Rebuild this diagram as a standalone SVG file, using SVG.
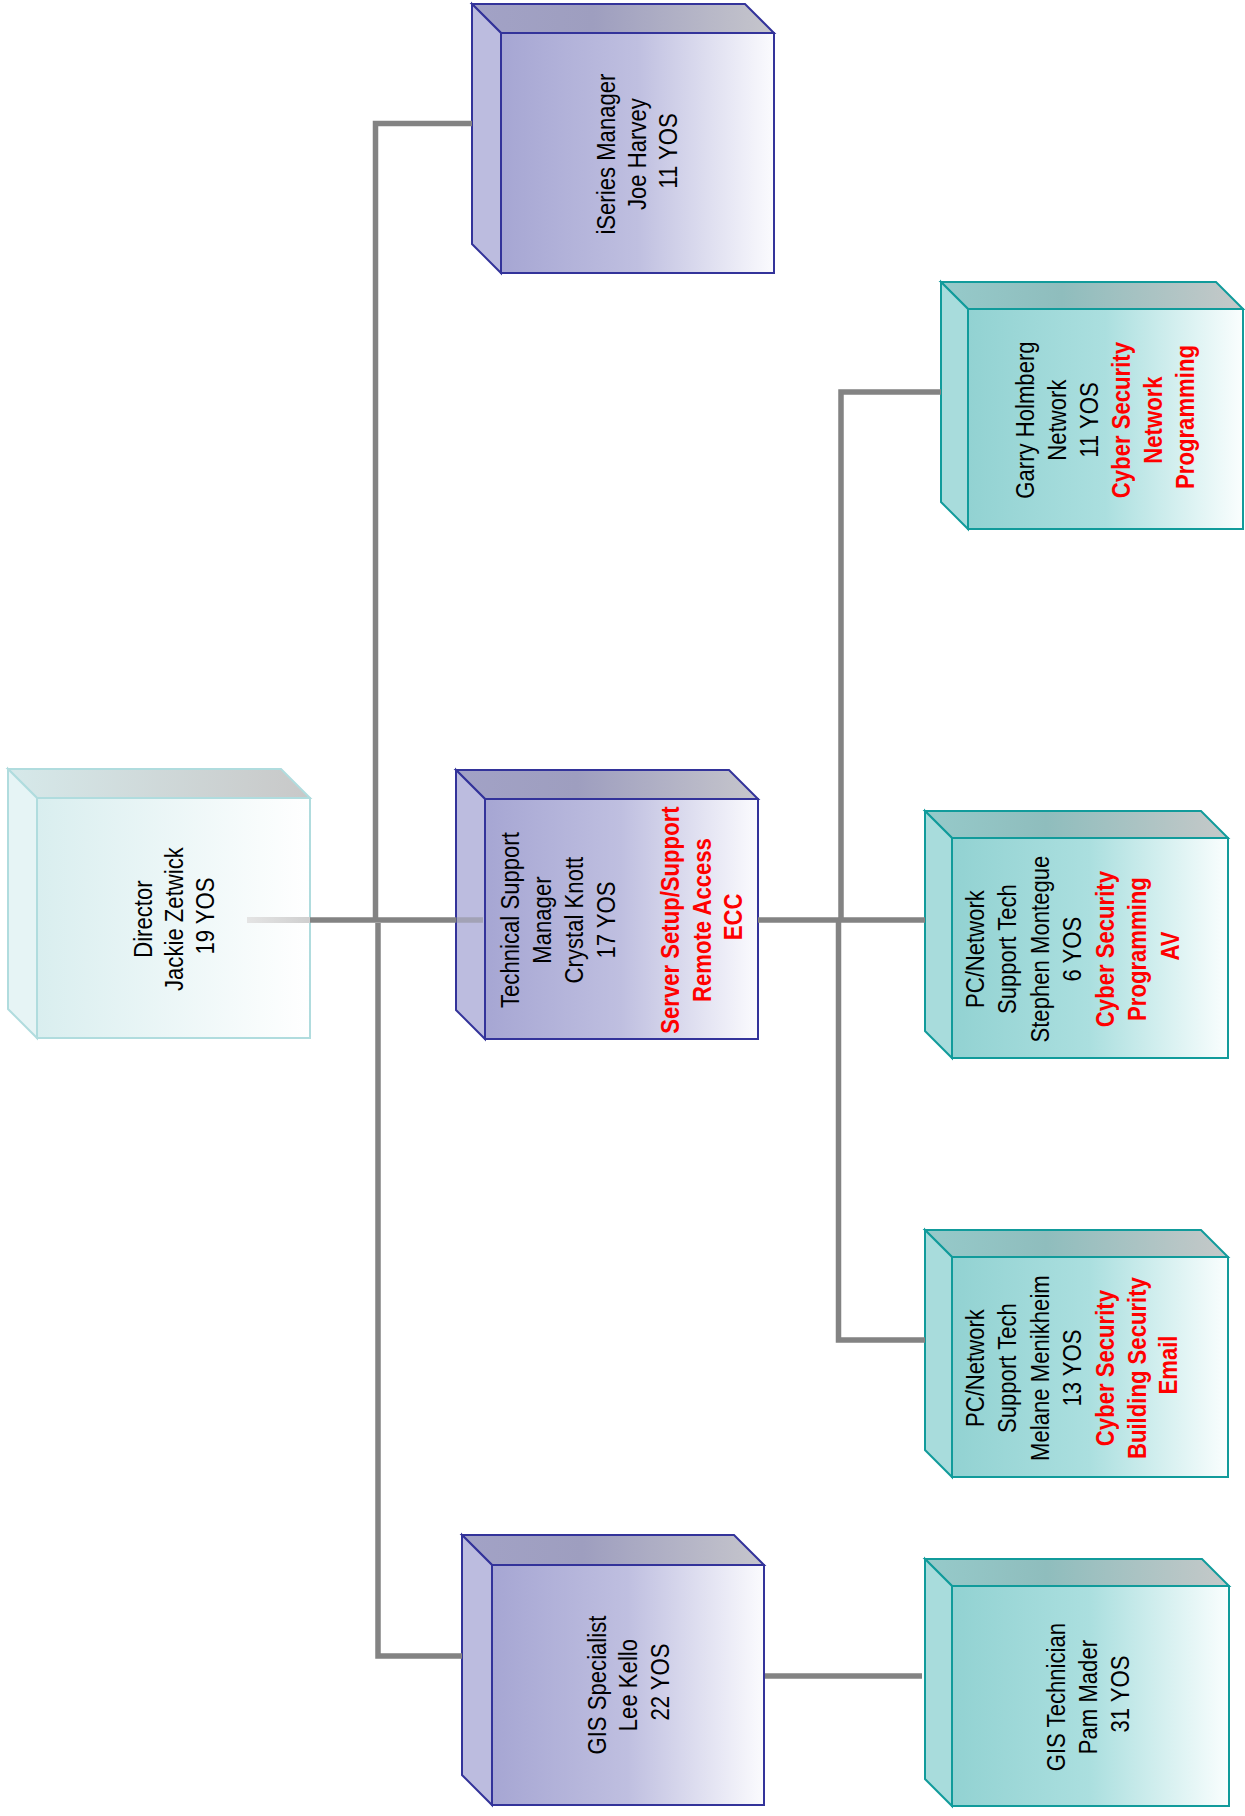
<svg xmlns="http://www.w3.org/2000/svg" width="1245" height="1816" viewBox="0 0 1245 1816">
  <style>
    .lbl { font-family: "Liberation Sans", Arial, sans-serif; font-size: 26.5px; fill: #000000; text-anchor: middle; }
    .duty { fill: #ff0000; font-weight: bold; }
    .edge { fill: none; stroke: #838383; stroke-width: 5.5; stroke-linejoin: miter; stroke-linecap: butt; }
    .purple .front { fill: url(#pFront); }
    .purple .top { fill: url(#pTop); }
    .purple .side { fill: #bcbcdf; }
    .purple path { stroke: #33339a; stroke-width: 2; stroke-linejoin: miter; }
    .teal .front { fill: url(#tFront); }
    .teal .top { fill: url(#tTop); }
    .teal .side { fill: #a8dcdc; }
    .teal path { stroke: #119b9b; stroke-width: 2; stroke-linejoin: miter; }
    .pale .front { fill: url(#dFront); }
    .pale .top { fill: url(#dTop); }
    .pale .side { fill: #e6f4f5; }
    .pale path { stroke: #b0dcde; stroke-width: 2; stroke-linejoin: miter; }
  </style>
  <defs>
    <linearGradient id="pFront" x1="0" y1="0" x2="1" y2="0">
      <stop offset="0" stop-color="#a6a6d3"/>
      <stop offset="0.5" stop-color="#bfbfe0"/>
      <stop offset="1" stop-color="#fbfbfe"/>
    </linearGradient>
    <linearGradient id="pTop" x1="0" y1="0" x2="1" y2="0">
      <stop offset="0" stop-color="#a2a2c6"/>
      <stop offset="0.4" stop-color="#9e9ebf"/>
      <stop offset="1" stop-color="#c6c6cc"/>
    </linearGradient>
    <linearGradient id="tFront" x1="0" y1="0" x2="1" y2="0">
      <stop offset="0" stop-color="#92d2d2"/>
      <stop offset="0.5" stop-color="#abdfdf"/>
      <stop offset="1" stop-color="#fafefe"/>
    </linearGradient>
    <linearGradient id="tTop" x1="0" y1="0" x2="1" y2="0">
      <stop offset="0" stop-color="#96caca"/>
      <stop offset="0.4" stop-color="#8fbdbd"/>
      <stop offset="1" stop-color="#c6c9c9"/>
    </linearGradient>
    <linearGradient id="dFront" x1="0" y1="0" x2="1" y2="0">
      <stop offset="0" stop-color="#d9eeef"/>
      <stop offset="1" stop-color="#ffffff"/>
    </linearGradient>
    <linearGradient id="dTop" x1="0" y1="0" x2="1" y2="0">
      <stop offset="0" stop-color="#d6e9ea"/>
      <stop offset="1" stop-color="#c8c8c8"/>
    </linearGradient>
    <linearGradient id="fadeIn" x1="0" y1="0" x2="1" y2="0">
      <stop offset="0" stop-color="#e4e4e4"/>
      <stop offset="1" stop-color="#cfcfcf"/>
    </linearGradient>
  </defs>

  <!-- Director -->
  <g id="director" class="pale">
    <path class="top" d="M8,769 H281 L310,798 H37 Z"/>
    <path class="side" d="M8,769 L37,798 V1038 L8,1009 Z"/>
    <path class="front" d="M37,798 H310 V1038 H37 Z"/>
    <text class="lbl" transform="translate(0,916) rotate(-90) scale(0.835,1)">
      <tspan x="0" y="152">Director</tspan>
      <tspan x="0" y="183">Jackie Zetwick</tspan>
      <tspan x="0" y="214">19 YOS</tspan>
    </text>
  </g>

  <!-- iSeries Manager -->
  <g id="iseries-manager" class="purple">
    <path class="top" d="M472,4 H745 L774,33 H501 Z"/>
    <path class="side" d="M472,4 L501,33 V273 L472,244 Z"/>
    <path class="front" d="M501,33 H774 V273 H501 Z"/>
    <text class="lbl" transform="translate(0,151) rotate(-90) scale(0.835,1)">
      <tspan x="0" y="615">iSeries Manager</tspan>
      <tspan x="0" y="646">Joe Harvey</tspan>
      <tspan x="0" y="677">11 YOS</tspan>
    </text>
  </g>

  <!-- Technical Support Manager -->
  <g id="tech-support-manager" class="purple">
    <path class="top" d="M456,770 H729 L758,799 H485 Z"/>
    <path class="side" d="M456,770 L485,799 V1039 L456,1010 Z"/>
    <path class="front" d="M485,799 H758 V1039 H485 Z"/>
    <text class="lbl" transform="translate(0,917) rotate(-90) scale(0.835,1)">
      <tspan x="0" y="519">Technical Support</tspan>
      <tspan x="0" y="551">Manager</tspan>
      <tspan x="0" y="583">Crystal Knott</tspan>
      <tspan x="0" y="615">17 YOS</tspan>
      <tspan class="duty" x="0" y="679">Server Setup/Support</tspan>
      <tspan class="duty" x="0" y="711">Remote Access</tspan>
      <tspan class="duty" x="0" y="742">ECC</tspan>
    </text>
  </g>

  <!-- GIS Specialist -->
  <g id="gis-specialist" class="purple">
    <path class="top" d="M462,1535 H734 L764,1565 H492 Z"/>
    <path class="side" d="M462,1535 L492,1565 V1805 L462,1775 Z"/>
    <path class="front" d="M492,1565 H764 V1805 H492 Z"/>
    <text class="lbl" transform="translate(0,1682) rotate(-90) scale(0.835,1)">
      <tspan x="0" y="606">GIS Specialist</tspan>
      <tspan x="0" y="637">Lee Kello</tspan>
      <tspan x="0" y="669">22 YOS</tspan>
    </text>
  </g>

  <!-- Garry Holmberg -->
  <g id="garry-holmberg" class="teal">
    <path class="top" d="M941,282 H1216 L1243,309 H968 Z"/>
    <path class="side" d="M941,282 L968,309 V529 L941,502 Z"/>
    <path class="front" d="M968,309 H1243 V529 H968 Z"/>
    <text class="lbl" transform="translate(0,417) rotate(-90) scale(0.835,1)">
      <tspan x="0" y="1034">Garry Holmberg</tspan>
      <tspan x="0" y="1066">Network</tspan>
      <tspan x="0" y="1098">11 YOS</tspan>
      <tspan class="duty" x="0" y="1130">Cyber Security</tspan>
      <tspan class="duty" x="0" y="1162">Network</tspan>
      <tspan class="duty" x="0" y="1194">Programming</tspan>
    </text>
  </g>

  <!-- Stephen Montegue -->
  <g id="stephen-montegue" class="teal">
    <path class="top" d="M925,811 H1201 L1228,838 H952 Z"/>
    <path class="side" d="M925,811 L952,838 V1058 L925,1031 Z"/>
    <path class="front" d="M952,838 H1228 V1058 H952 Z"/>
    <text class="lbl" transform="translate(0,946) rotate(-90) scale(0.835,1)">
      <tspan x="0" y="984">PC/Network</tspan>
      <tspan x="0" y="1016">Support Tech</tspan>
      <tspan x="0" y="1049">Stephen Montegue</tspan>
      <tspan x="0" y="1081">6 YOS</tspan>
      <tspan class="duty" x="0" y="1114">Cyber Security</tspan>
      <tspan class="duty" x="0" y="1146">Programming</tspan>
      <tspan class="duty" x="0" y="1179">AV</tspan>
    </text>
  </g>

  <!-- Melane Menikheim -->
  <g id="melane-menikheim" class="teal">
    <path class="top" d="M925,1230 H1201 L1228,1257 H952 Z"/>
    <path class="side" d="M925,1230 L952,1257 V1477 L925,1450 Z"/>
    <path class="front" d="M952,1257 H1228 V1477 H952 Z"/>
    <text class="lbl" transform="translate(0,1365) rotate(-90) scale(0.835,1)">
      <tspan x="0" y="984">PC/Network</tspan>
      <tspan x="0" y="1016">Support Tech</tspan>
      <tspan x="0" y="1049">Melane Menikheim</tspan>
      <tspan x="0" y="1081">13 YOS</tspan>
      <tspan class="duty" x="0" y="1114">Cyber Security</tspan>
      <tspan class="duty" x="0" y="1146">Building Security</tspan>
      <tspan class="duty" x="0" y="1177">Email</tspan>
    </text>
  </g>

  <!-- Pam Mader -->
  <g id="pam-mader" class="teal">
    <path class="top" d="M925,1559 H1202 L1229,1586 H952 Z"/>
    <path class="side" d="M925,1559 L952,1586 V1806 L925,1779 Z"/>
    <path class="front" d="M952,1586 H1229 V1806 H952 Z"/>
    <text class="lbl" transform="translate(0,1694) rotate(-90) scale(0.835,1)">
      <tspan x="0" y="1065">GIS Technician</tspan>
      <tspan x="0" y="1097">Pam Mader</tspan>
      <tspan x="0" y="1129">31 YOS</tspan>
    </text>
  </g>

  <!-- Reporting lines -->
  <g id="connectors">
    <!-- faded stub leaving the director box -->
    <rect x="247" y="917" width="63" height="6" fill="url(#fadeIn)"/>
    <!-- director to technical support manager -->
    <path class="edge" d="M310,920 H456"/>
    <path class="edge" d="M456,920 H483" stroke-opacity="0.45"/>
    <!-- director to iSeries manager -->
    <path class="edge" d="M375.5,920 V123.5 H472"/>
    <!-- director to GIS specialist -->
    <path class="edge" d="M378,923 V1656 H462"/>
    <!-- technical support manager to the support techs -->
    <path class="edge" d="M758,920 H925"/>
    <path class="edge" d="M841,918 V392 H941"/>
    <path class="edge" d="M838.5,922 V1340 H925"/>
    <!-- GIS specialist to GIS technician -->
    <path class="edge" d="M765,1676 H922"/>
  </g>
</svg>
